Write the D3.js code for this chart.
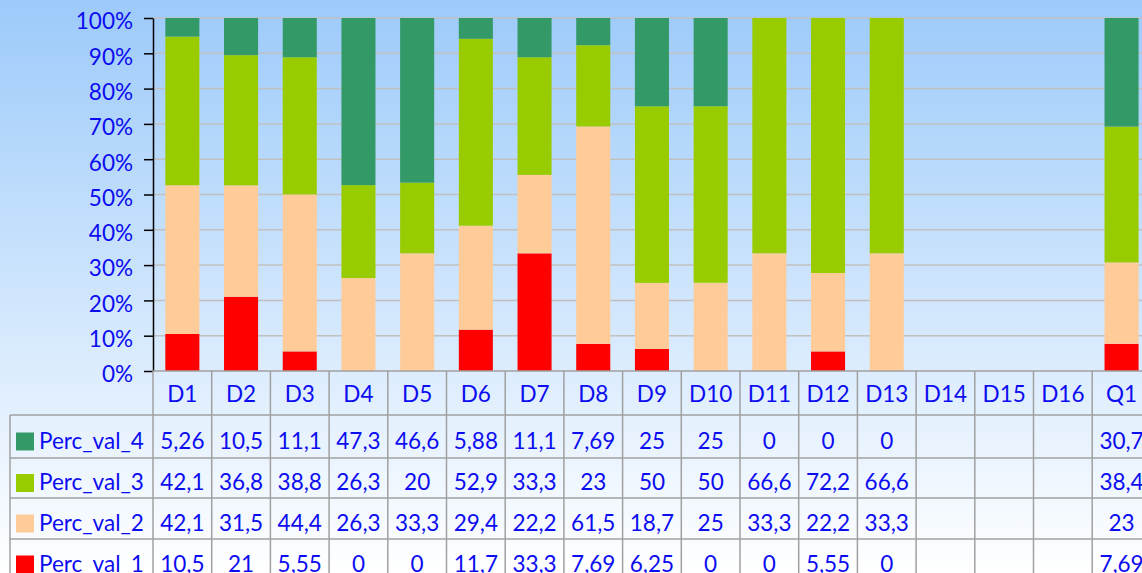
<!DOCTYPE html>
<html>
<head>
<meta charset="utf-8">
<script src="https://cdn.jsdelivr.net/npm/d3@7"></script>
<style>
  body { margin: 0; overflow: hidden; }
  text { font-family: Lato, "Open Sans", sans-serif; fill: #0c0cf0; }
</style>
</head>
<body>
<div id="chart"></div>
<script>
const categories = ["D1","D2","D3","D4","D5","D6","D7","D8","D9","D10","D11","D12","D13","D14","D15","D16","Q1"];
const seriesNames = ["Perc_val_1","Perc_val_2","Perc_val_3","Perc_val_4"];
// null = empty cell
const percVal1 = [10.5, 21, 5.55, 0, 0, 11.7, 33.3, 7.69, 6.25, 0, 0, 5.55, 0, null, null, null, 7.69];
const percVal2 = [42.1, 31.5, 44.4, 26.3, 33.3, 29.4, 22.2, 61.5, 18.7, 25, 33.3, 22.2, 33.3, null, null, null, 23];
const percVal3 = [42.1, 36.8, 38.8, 26.3, 20, 52.9, 33.3, 23, 50, 50, 66.6, 72.2, 66.6, null, null, null, 38.4];
const percVal4 = [5.26, 10.5, 11.1, 47.3, 46.6, 5.88, 11.1, 7.69, 25, 25, 0, 0, 0, null, null, null, 30.7];
const labelsVal1 = ["10,5","21","5,55","0","0","11,7","33,3","7,69","6,25","0","0","5,55","0","","","","7,69"];
const labelsVal2 = ["42,1","31,5","44,4","26,3","33,3","29,4","22,2","61,5","18,7","25","33,3","22,2","33,3","","","","23"];
const labelsVal3 = ["42,1","36,8","38,8","26,3","20","52,9","33,3","23","50","50","66,6","72,2","66,6","","","","38,4"];
const labelsVal4 = ["5,26","10,5","11,1","47,3","46,6","5,88","11,1","7,69","25","25","0","0","0","","","","30,7"];
const yTicks = [0,0.1,0.2,0.3,0.4,0.5,0.6,0.7,0.8,0.9,1];
const colors = ["#ff0000","#ffcc99","#99cc00","#339966"];

const W = 1142, H = 573;
const plotLeft = 153, plotTop = 18, plotBottom = 371;
const colW = 58.7;
const fontSize = 22.5;

const svg = d3.select("#chart").append("svg")
  .attr("width", W).attr("height", H);

// background gradient
const grad = svg.append("defs").append("linearGradient")
  .attr("id", "bg").attr("x1", 0).attr("y1", 0).attr("x2", 0).attr("y2", 1);
grad.append("stop").attr("offset", "0%").attr("stop-color", "#9ccafa");
grad.append("stop").attr("offset", "100%").attr("stop-color", "#ffffff");
svg.append("rect").attr("width", W).attr("height", H).attr("fill", "url(#bg)");

const x = d3.scaleBand()
  .domain(categories)
  .range([plotLeft, plotLeft + colW * categories.length])
  .padding(0);
const y = d3.scaleLinear().domain([0, 1]).range([plotBottom, plotTop]);

// gridlines
svg.append("g").selectAll("line").data(yTicks.slice(1)).join("line")
  .attr("x1", plotLeft).attr("x2", W)
  .attr("y1", d => y(d)).attr("y2", d => y(d))
  .attr("stroke", "#c0c0c0").attr("stroke-width", 1.5);

// stacked (normalised) bars
const rows = categories.map((c, i) => ({
  cat: c,
  Perc_val_1: percVal1[i] || 0, Perc_val_2: percVal2[i] || 0,
  Perc_val_3: percVal3[i] || 0, Perc_val_4: percVal4[i] || 0
}));
const stacked = d3.stack().keys(seriesNames).offset(d3.stackOffsetExpand)(rows);
const barW = x.bandwidth() * 0.58;

svg.append("g").selectAll("g").data(stacked).join("g")
  .attr("fill", (d, i) => colors[i])
  .selectAll("rect").data(d => d.filter(s => !isNaN(s[1]) && s[1] - s[0] > 0)).join("rect")
  .attr("x", d => x(d.data.cat) + (x.bandwidth() - barW) / 2)
  .attr("width", barW)
  .attr("y", d => y(d[1]))
  .attr("height", d => y(d[0]) - y(d[1]));

// y axis
const yAxis = svg.append("g")
  .attr("transform", `translate(${plotLeft},0)`)
  .call(d3.axisLeft(y).tickValues(yTicks).tickFormat(d3.format(".0%")).tickSizeInner(9).tickSizeOuter(0).tickPadding(11));
yAxis.select(".domain").attr("stroke", "#000").attr("stroke-width", 1.5);
yAxis.selectAll(".tick line").attr("stroke", "#000").attr("stroke-width", 1.5);
yAxis.selectAll("text").attr("font-size", fontSize).attr("fill", "#0c0cf0")
  .attr("dy", "0.48em")
  .style("font-family", "Lato, sans-serif");

// data table
const headerBottom = 415;
const rowEdges = [415, 458, 498, 539, 580];
const tableLeft = 10;
const tableRight = plotLeft + colW * categories.length;
const tableRows = [
  { name: "Perc_val_4", color: colors[3], labels: labelsVal4 },
  { name: "Perc_val_3", color: colors[2], labels: labelsVal3 },
  { name: "Perc_val_2", color: colors[1], labels: labelsVal2 },
  { name: "Perc_val_1", color: colors[0], labels: labelsVal1 }
];
const grid = svg.append("g").attr("stroke", "#a0a0a0").attr("stroke-width", 1.5);
grid.append("line").attr("x1", plotLeft).attr("x2", tableRight).attr("y1", plotBottom).attr("y2", plotBottom);
rowEdges.slice(0, 4).forEach(ry => {
  grid.append("line").attr("x1", tableLeft).attr("x2", tableRight).attr("y1", ry).attr("y2", ry);
});
grid.append("line").attr("x1", tableLeft).attr("x2", tableLeft).attr("y1", headerBottom).attr("y2", H);
categories.forEach(c => {
  grid.append("line").attr("x1", x(c)).attr("x2", x(c)).attr("y1", plotBottom).attr("y2", H);
});
grid.append("line").attr("x1", tableRight).attr("x2", tableRight).attr("y1", plotBottom).attr("y2", H);

// header labels
svg.append("g").selectAll("text").data(categories).join("text")
  .attr("x", d => x(d) + x.bandwidth() / 2)
  .attr("y", (plotBottom + headerBottom) / 2 + 1)
  .attr("dy", "0.36em")
  .attr("text-anchor", "middle")
  .attr("font-size", fontSize)
  .text(d => d);

tableRows.forEach((r, ri) => {
  const cy = (rowEdges[ri] + rowEdges[ri + 1]) / 2 + 4;
  svg.append("rect").attr("x", 16).attr("y", cy - 8).attr("width", 18).attr("height", 18).attr("fill", r.color);
  svg.append("text").attr("x", 39).attr("y", cy).attr("dy", "0.36em")
    .attr("font-size", fontSize).text(r.name);
  svg.append("g").selectAll("text").data(r.labels).join("text")
    .attr("x", (d, i) => x(categories[i]) + x.bandwidth() / 2)
    .attr("y", cy).attr("dy", "0.36em")
    .attr("text-anchor", "middle")
    .attr("font-size", fontSize)
    .text(d => d);
});
</script>
</body>
</html>
